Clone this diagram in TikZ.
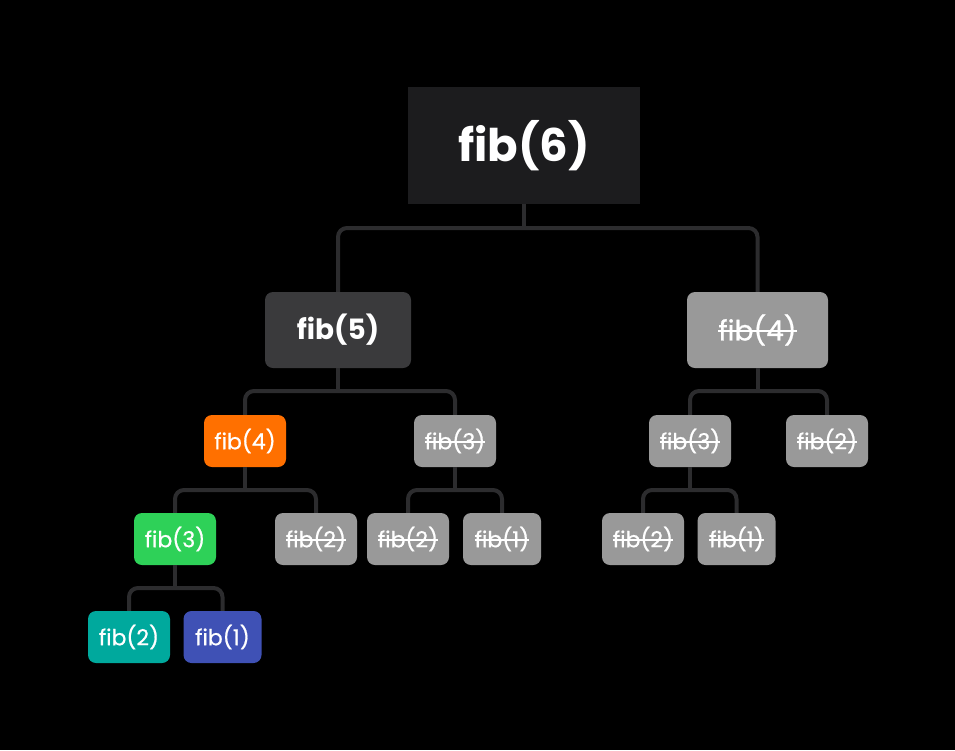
\documentclass[tikz,border=0pt]{standalone}
\usepackage{fontspec}
\setmainfont{Poppins}
\newfontfamily\medfont{Poppins}[FakeBold=0.7]
\definecolor{bgblack}{HTML}{000000}
\definecolor{rootc}{HTML}{1C1C1E}
\definecolor{fivec}{HTML}{3A3A3C}
\definecolor{greyc}{HTML}{999999}
\definecolor{orangec}{HTML}{FF7000}
\definecolor{greenc}{HTML}{2ED158}
\definecolor{tealc}{HTML}{00A99D}
\definecolor{bluec}{HTML}{3F51B5}
\definecolor{connc}{HTML}{2C2C2E}
\tikzset{
  box/.style={rounded corners=8pt, text=white, inner sep=0pt, font=\medfont\fontsize{22}{24}\selectfont, minimum height=52pt},
  small/.style={box, minimum width=82pt},
  smallone/.style={box, minimum width=78pt},
  dead/.style={fill=greyc},
  conn/.style={draw=connc, line width=4pt, rounded corners=9pt},
  stem/.style={draw=connc, line width=4pt},
}
\newsavebox\strikebox
\newcommand{\dd}[1]{\sbox\strikebox{#1}\rlap{\usebox\strikebox}\rule[0.3em]{\wd\strikebox}{0.075em}}
\begin{document}
\begin{tikzpicture}[x=1pt,y=-1pt]
\path[use as bounding box, fill=bgblack] (0,0) rectangle (955,750);
% nodes
\node[fill=rootc, text=white, minimum width=232pt, minimum height=117pt, inner sep=0pt, font=\fontsize{45}{50}\selectfont\bfseries] (n6) at (524,145.5) {fib(6)};
\node[box, fill=fivec, minimum width=146pt, minimum height=76pt, font=\fontsize{28}{32}\selectfont\bfseries] (n5) at (338,330) {fib(5)};
\node[box, dead, minimum width=141pt, minimum height=76pt, font=\medfont\fontsize{28}{32}\selectfont] (r4) at (757.5,330) {\dd{fib(4)}};
\node[small, fill=orangec] (a4) at (245,441) {fib(4)};
\node[small, dead] (a3) at (455,441) {\dd{fib(3)}};
\node[small, dead] (r3) at (690,441) {\dd{fib(3)}};
\node[small, dead] (r2) at (827,441) {\dd{fib(2)}};
\node[small, fill=greenc] (g3) at (175,539) {fib(3)};
\node[small, dead] (b2) at (316,539) {\dd{fib(2)}};
\node[small, dead] (c2) at (408,539) {\dd{fib(2)}};
\node[smallone, dead] (c1) at (502,539) {\dd{fib(1)}};
\node[small, dead] (d2) at (643,539) {\dd{fib(2)}};
\node[smallone, dead] (d1) at (736.5,539) {\dd{fib(1)}};
\node[small, fill=tealc] (t2) at (129,637) {fib(2)};
\node[smallone, fill=bluec] (t1) at (222.5,637) {fib(1)};
% connectors
\draw[stem] (n6.south) -- (n6.south |- 0,228);
\draw[conn] (n5.north) -- (n5.north |- 0,228) -- (r4.north |- 0,228) -- (r4.north);
\draw[stem] (n5.south) -- (n5.south |- 0,391);
\draw[conn] (a4.north) -- (a4.north |- 0,391) -- (a3.north |- 0,391) -- (a3.north);
\draw[stem] (r4.south) -- (r4.south |- 0,391);
\draw[conn] (r3.north) -- (r3.north |- 0,391) -- (r2.north |- 0,391) -- (r2.north);
\draw[stem] (a4.south) -- (a4.south |- 0,490);
\draw[conn] (g3.north) -- (g3.north |- 0,490) -- (b2.north |- 0,490) -- (b2.north);
\draw[stem] (a3.south) -- (a3.south |- 0,490);
\draw[conn] (c2.north) -- (c2.north |- 0,490) -- (c1.north |- 0,490) -- (c1.north);
\draw[stem] (r3.south) -- (r3.south |- 0,490);
\draw[conn] (d2.north) -- (d2.north |- 0,490) -- (d1.north |- 0,490) -- (d1.north);
\draw[stem] (g3.south) -- (g3.south |- 0,588);
\draw[conn] (t2.north) -- (t2.north |- 0,588) -- (t1.north |- 0,588) -- (t1.north);
\end{tikzpicture}
\end{document}
